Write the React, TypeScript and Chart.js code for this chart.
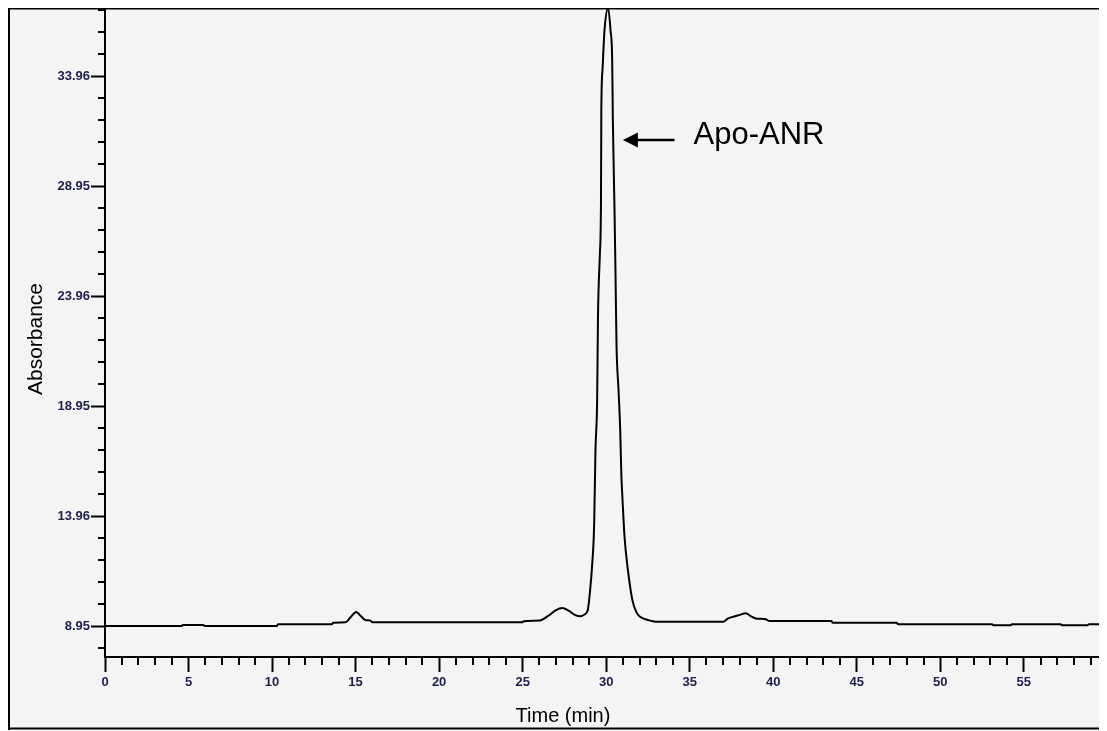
import React, { useEffect, useRef } from "react";
import { Chart, registerables } from "chart.js";

Chart.register(...registerables);

// Chromatogram trace: retention time (min) and detector absorbance
const TIME_MIN = [
  0, 4.6, 4.65, 5.9, 5.95, 10.3, 10.35, 13.6, 13.65, 14.4, 14.7, 15.04, 15.3, 15.6, 15.9, 16.0,
  25.0, 25.05, 26.0, 26.5, 27.0, 27.38, 27.75, 28.15, 28.46, 28.7,
  28.9, 29.04, 29.16, 29.28, 29.36, 29.46, 29.51, 29.62, 29.69, 29.71, 29.78, 29.9, 30.12,
  30.26, 30.36, 30.4, 30.5, 30.56, 30.62, 30.74, 30.84, 30.91, 30.98, 31.1, 31.28, 31.57, 31.8, 32.05,
  32.35, 32.65, 32.95, 37.0, 37.3, 37.7, 38.0, 38.35, 38.65, 38.95, 39.5, 39.8,
  43.5, 43.55, 47.4, 47.45, 53.1, 53.2, 54.2, 54.3, 57.2, 57.3, 58.8, 58.9, 59.98,
];
const ABSORBANCE = [
  8.96, 8.96, 9.0, 9.0, 8.96, 8.96, 9.04, 9.04, 9.1, 9.12, 9.35, 9.59, 9.42, 9.22, 9.2, 9.12,
  9.12, 9.17, 9.2, 9.4, 9.68, 9.77, 9.65, 9.45, 9.4, 9.48,
  9.68, 10.59, 11.72, 13.54, 16.95, 19.22, 23.0, 25.81, 28.31, 32.4, 34.22, 36.04, 37.04,
  36.04, 34.68, 31.95, 27.86, 24.9, 21.72, 19.68, 17.86, 15.81, 14.68, 13.0, 11.63, 10.13, 9.6, 9.36,
  9.26, 9.2, 9.15, 9.15, 9.3, 9.4, 9.46, 9.54, 9.4, 9.3, 9.27, 9.18,
  9.18, 9.1, 9.1, 9.04, 9.04, 8.99, 8.99, 9.04, 9.04, 8.99, 8.99, 9.04, 9.04,
];

// Axis ranges and ticks
const X_RANGE = [0, 59.98];
const Y_RANGE = [7.546, 37.046];
const X_TICK_VALUES = Array.from({ length: 60 }, (_, i) => i);
const X_MAJOR_STEP = 5;
const Y_TICK_VALUES = Array.from({ length: 30 }, (_, i) => 7.955 + i);
const Y_MAJOR_VALUES = [8.955, 13.955, 18.955, 23.955, 28.955, 33.955];
const Y_MAJOR_LABELS = ["8.95", "13.96", "18.95", "23.96", "28.95", "33.96"];

// Peak annotation (data coordinates)
const PEAK_NAME = "Apo-ANR";
const ARROW_TIP = { t: 31.0, a: 31.05 };
const ARROW_TAIL_T = 34.09;
const PEAK_TEXT = { t: 35.23, a: 31.27 };

const X_TITLE = "Time (min)";
const Y_TITLE = "Absorbance";

const FONT = '"Liberation Sans", Arial, Helvetica, sans-serif';
const TICK_LABEL_COLOR = "#1e1e4a";

const isMajorY = (v: number) => Y_MAJOR_VALUES.some((m) => Math.abs(m - v) < 1e-6);
const isMajorX = (v: number) => Math.abs(v % X_MAJOR_STEP) < 1e-6;

const decor = {
  id: "decor",
  beforeDraw(chart: any) {
    const { ctx, width, height } = chart;
    ctx.save();
    ctx.fillStyle = "#f4f4f4";
    ctx.fillRect(0, 0, width, height);
    ctx.restore();
  },
  afterDraw(chart: any) {
    const { ctx, chartArea, scales, height } = chart;
    const xs = scales.x;
    const ys = scales.y;
    ctx.save();

    // short minor ticks
    ctx.strokeStyle = "#000";
    ctx.lineWidth = 2;
    ctx.beginPath();
    for (const t of xs.ticks) {
      if (isMajorX(t.value)) continue;
      const px = Math.round(xs.getPixelForValue(t.value));
      ctx.moveTo(px, chartArea.bottom);
      ctx.lineTo(px, chartArea.bottom + 8);
    }
    for (const t of ys.ticks) {
      if (isMajorY(t.value)) continue;
      const py = Math.round(ys.getPixelForValue(t.value));
      ctx.moveTo(chartArea.left, py);
      ctx.lineTo(chartArea.left - 7, py);
    }
    ctx.stroke();

    // outer frame
    ctx.beginPath();
    ctx.moveTo(1, height);
    ctx.lineTo(1, 0.5);
    ctx.lineTo(chart.width, 0.5);
    ctx.moveTo(0, height - 1.5);
    ctx.lineTo(chart.width, height - 1.5);
    ctx.stroke();

    // axis titles
    ctx.fillStyle = "#000";
    ctx.textAlign = "center";
    ctx.textBaseline = "alphabetic";
    ctx.font = `20px "Liberation Sans Narrow", ${FONT}`;
    ctx.fillText(X_TITLE, 555, 714);

    ctx.save();
    ctx.translate(34, 331);
    ctx.rotate(-Math.PI / 2);
    ctx.font = `21px ${FONT}`;
    ctx.fillText(Y_TITLE, 0, 0);
    ctx.restore();

    // peak arrow and name
    const tipX = xs.getPixelForValue(ARROW_TIP.t);
    const tipY = ys.getPixelForValue(ARROW_TIP.a);
    const tailX = xs.getPixelForValue(ARROW_TAIL_T);
    ctx.lineWidth = 2.5;
    ctx.beginPath();
    ctx.moveTo(tipX + 12, tipY);
    ctx.lineTo(tailX, tipY);
    ctx.stroke();
    ctx.beginPath();
    ctx.moveTo(tipX, tipY);
    ctx.lineTo(tipX + 15, tipY - 7.5);
    ctx.lineTo(tipX + 15, tipY + 7.5);
    ctx.closePath();
    ctx.fill();

    ctx.textAlign = "left";
    ctx.textBaseline = "middle";
    ctx.font = `31px ${FONT}`;
    ctx.fillText(PEAK_NAME, xs.getPixelForValue(PEAK_TEXT.t), ys.getPixelForValue(PEAK_TEXT.a));

    ctx.restore();
  },
};

export default function App() {
  const canvasRef = useRef<HTMLCanvasElement | null>(null);

  useEffect(() => {
    document.documentElement.style.overflow = "hidden";
    document.body.style.overflow = "hidden";
    const canvas = canvasRef.current;
    if (!canvas) return;

    const chart = new Chart(canvas, {
      type: "line",
      data: {
        datasets: [
          {
            data: TIME_MIN.map((t, i) => ({ x: t, y: ABSORBANCE[i] })),
            borderColor: "#000",
            borderWidth: 2,
            pointRadius: 0,
            fill: false,
            cubicInterpolationMode: "monotone",
          },
        ],
      },
      options: {
        animation: false,
        responsive: false,
        devicePixelRatio: 1,
        layout: { padding: 0 },
        plugins: {
          legend: { display: false },
          tooltip: { enabled: false },
        },
        scales: {
          x: {
            type: "linear",
            min: X_RANGE[0],
            max: X_RANGE[1],
            afterBuildTicks: (scale: any) => {
              scale.ticks = X_TICK_VALUES.map((value) => ({ value }));
            },
            afterFit: (scale: any) => {
              scale.height = 73;
              scale.paddingLeft = 0;
              scale.paddingRight = 0;
            },
            border: { display: true, color: "#000", width: 2 },
            grid: {
              display: true,
              drawOnChartArea: false,
              tickLength: 15,
              tickWidth: 2,
              tickColor: (c: any) => (c.tick && isMajorX(c.tick.value) ? "#000" : "rgba(0,0,0,0)"),
            },
            ticks: {
              autoSkip: false,
              maxRotation: 0,
              padding: 3,
              color: TICK_LABEL_COLOR,
              font: { family: FONT, size: 13, weight: "bold" },
              callback: (v: any) => (isMajorX(Number(v)) ? String(v) : ""),
            },
          },
          y: {
            type: "linear",
            min: Y_RANGE[0],
            max: Y_RANGE[1],
            afterBuildTicks: (scale: any) => {
              scale.ticks = Y_TICK_VALUES.map((value) => ({ value }));
            },
            afterFit: (scale: any) => {
              scale.width = 97;
              scale.paddingTop = 0;
              scale.paddingBottom = 0;
            },
            border: { display: true, color: "#000", width: 2 },
            grid: {
              display: true,
              drawOnChartArea: false,
              tickLength: 14,
              tickWidth: 2,
              tickColor: (c: any) => (c.tick && isMajorY(c.tick.value) ? "#000" : "rgba(0,0,0,0)"),
            },
            ticks: {
              autoSkip: false,
              padding: 1,
              color: TICK_LABEL_COLOR,
              font: { family: FONT, size: 13, weight: "bold" },
              callback: (v: any) => {
                const i = Y_MAJOR_VALUES.findIndex((m) => Math.abs(m - Number(v)) < 1e-6);
                return i >= 0 ? Y_MAJOR_LABELS[i] : "";
              },
            },
          },
        },
      },
      plugins: [decor],
    } as any);

    return () => chart.destroy();
  }, []);

  return (
    <div style={{ width: 1099, height: 722 }}>
      <canvas ref={canvasRef} width={1099} height={722} style={{ display: "block", width: 1099, height: 722 }} />
    </div>
  );
}
